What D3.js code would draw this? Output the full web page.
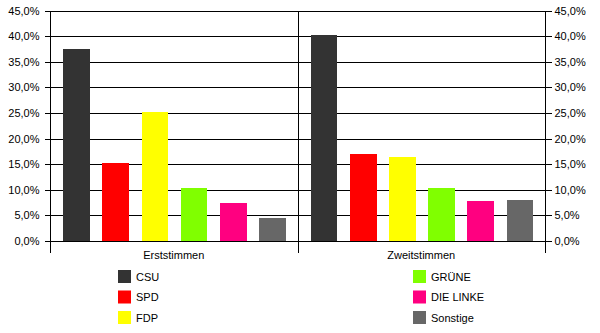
<!DOCTYPE html>
<html><head><meta charset="utf-8">
<script src="https://cdn.jsdelivr.net/npm/d3@7"></script>
<style>
html,body{margin:0;padding:0;background:#fff;}
svg{display:block;font-family:"Liberation Sans",Arial,sans-serif;}
</style></head>
<body>
<svg id="c" width="600" height="333"></svg>
<script>
const groups = ["Erststimmen", "Zweitstimmen"];
const parties = ["CSU", "SPD", "FDP", "GRÜNE", "DIE LINKE", "Sonstige"];
const colors = ["#333333", "#ff0000", "#ffff00", "#80ff00", "#ff0080", "#676767"];
const erststimmen = [37.5, 15.2, 25.2, 10.4, 7.5, 4.5];
const zweitstimmen = [40.3, 17.0, 16.5, 10.4, 7.8, 8.0];
const tickValues = [0, 5, 10, 15, 20, 25, 30, 35, 40, 45];

(function () {
const seriesByGroup = [erststimmen, zweitstimmen];
const svg = d3.select("#c");
const pLeft = 50, pRight = 545, pTop = 10.7, pBottom = 241;

const loc = d3.formatLocale({decimal: ",", thousands: ".", grouping: [3], currency: ["", "€"]});
const fmt = v => loc.format(".1f")(v) + "%";

const y = d3.scaleLinear().domain([0, 45]).range([pBottom, pTop]);
const x0 = d3.scaleBand().domain(groups).range([pLeft, pRight]).paddingInner(0).paddingOuter(0);
const x1 = d3.scaleBand().domain(parties).range([0, x0.bandwidth()])
  .paddingInner(0.32).paddingOuter(0.32).align(0.53);

// gridlines
svg.append("g").selectAll("line").data(tickValues).join("line")
  .attr("x1", pLeft).attr("x2", pRight)
  .attr("y1", d => Math.round(y(d)) + 0.5).attr("y2", d => Math.round(y(d)) + 0.5)
  .attr("stroke", "#000").attr("stroke-width", 1).attr("shape-rendering", "crispEdges");

// bars
const gg = svg.append("g").selectAll("g").data(groups).join("g")
  .attr("transform", d => `translate(${x0(d)},0)`);
gg.selectAll("rect").data((g, i) => parties.map((p, j) => ({p, v: seriesByGroup[i][j], c: colors[j]})))
  .join("rect")
  .attr("x", d => x1(d.p)).attr("width", x1.bandwidth())
  .attr("y", d => y(d.v)).attr("height", d => y(0) - y(d.v))
  .attr("fill", d => d.c).attr("shape-rendering", "crispEdges");

// axes
const axL = d3.axisLeft(y).tickValues(tickValues).tickFormat(fmt).tickSize(6).tickPadding(5);
const gL = svg.append("g").attr("transform", `translate(${pLeft + 0.5},0)`).call(axL);
gL.select(".domain").remove();
const axR = d3.axisRight(y).tickValues(tickValues).tickFormat(fmt).tickSize(6).tickPadding(3);
const gR = svg.append("g").attr("transform", `translate(${pRight + 0.5},0)`).call(axR);
gR.select(".domain").remove();
[gL, gR].forEach(g => {
  g.selectAll("text").attr("font-size", 11).attr("font-family", "Liberation Sans, Arial, sans-serif").attr("fill", "#000");
  g.selectAll("line").attr("stroke", "#000").attr("shape-rendering", "crispEdges");
});

// vertical separators
const seps = [pLeft, x0(groups[1]), pRight];
svg.append("g").selectAll("line").data(seps).join("line")
  .attr("x1", d => Math.round(d) + 0.5).attr("x2", d => Math.round(d) + 0.5)
  .attr("y1", pTop).attr("y2", 253)
  .attr("stroke", "#000").attr("shape-rendering", "crispEdges");

// category labels
svg.append("g").selectAll("text").data(groups).join("text")
  .attr("x", d => x0(d) + x0.bandwidth() / 2).attr("y", 259)
  .attr("text-anchor", "middle").attr("font-size", 11).text(d => d);

// legend
const legX = [118, 413];
const legY = [270, 290.5, 311];
const leg = svg.append("g").selectAll("g").data(parties).join("g")
  .attr("transform", (d, i) => `translate(${legX[Math.floor(i / 3)]},${legY[i % 3]})`);
leg.append("rect").attr("width", 13).attr("height", 13)
  .attr("fill", (d, i) => colors[i]);
leg.append("text").attr("x", 18).attr("y", 10.5).attr("font-size", 11).text(d => d);
})();
</script>
</body></html>
